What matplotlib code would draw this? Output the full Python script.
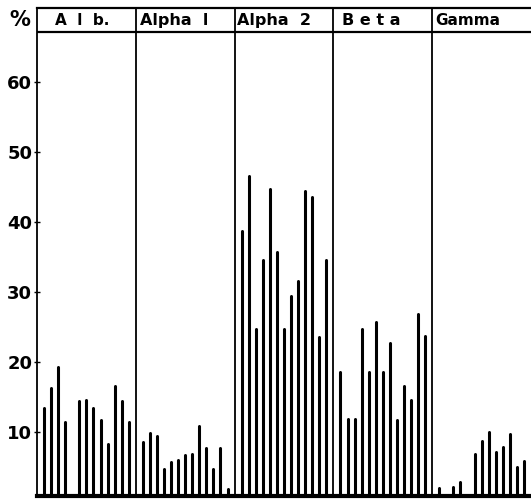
import matplotlib
matplotlib.use("Agg")
import matplotlib.pyplot as plt
import numpy as np

# ---- data ----
fractions = ["A  l  b.", "Alpha  l", "Alpha  2", "B e t a", "Gamma"]
alb    = [13.4, 16.3, 19.3, 11.4, 0.0, 14.4, 14.6, 13.4, 11.7, 8.3, 16.6, 14.4, 11.4]
alpha1 = [8.6, 9.8, 9.5, 4.7, 5.7, 6.0, 6.7, 6.9, 10.8, 7.7, 4.7, 7.7, 1.9]
alpha2 = [38.7, 46.6, 24.7, 34.6, 44.7, 35.7, 24.7, 29.4, 31.6, 44.4, 43.6, 23.6, 34.6]
beta   = [18.6, 11.9, 11.9, 24.7, 18.6, 25.7, 18.6, 22.7, 11.7, 16.6, 14.6, 26.9, 23.7]
gamma  = [2.0, 0.0, 2.1, 2.8, 0.0, 6.9, 8.7, 10.0, 7.1, 7.9, 9.7, 5.0, 5.9]
yticks = [10, 20, 30, 40, 50, 60]

series = [alb, alpha1, alpha2, beta, gamma]

W, H = 531, 499
fig = plt.figure(figsize=(W / 100, H / 100), dpi=100)
ax = fig.add_axes([37 / W, 3 / H, (W - 37) / W, (496 - 8) / H])

group_w = 14
for g, vals in enumerate(series):
    x = g * group_w + 1 + np.arange(len(vals))
    v = np.array(vals)
    m = v > 0
    ax.vlines(x[m], 0, v[m], colors="black", linewidth=2.2, capstyle="round")
    if g > 0:
        ax.axvline(g * group_w, color="black", linewidth=1.3)

y_bottom = 0.86
y_top = 70.57
y_header = 67.14
ax.set_xlim(0, 70)
ax.set_ylim(y_bottom, y_top)
ax.axhline(y_header, color="black", linewidth=1.6)

# header labels
label_x = [2.6, 0.6, 0.4, 1.2, 0.4]
label_fs = [11, 11.5, 11.5, 11.5, 11]
for g, lab in enumerate(fractions):
    ax.text(g * group_w + label_x[g], (y_header + y_top) / 2, lab,
            ha="left", va="center", fontsize=label_fs[g], fontweight="bold",
            family="DejaVu Sans")

fig.text(20 / W, 1 - 20 / H, "%", ha="center", va="center",
         fontsize=15, fontweight="bold", family="DejaVu Sans")

ax.set_yticks(yticks)
ax.set_yticklabels([str(t) for t in yticks], fontsize=13, fontweight="bold",
                   family="DejaVu Sans")
ax.tick_params(axis="y", direction="inout", length=5, width=1, pad=1)
ax.set_xticks([])

ax.spines["right"].set_visible(False)
ax.spines["left"].set_linewidth(1.3)
ax.spines["top"].set_linewidth(1.6)
ax.spines["bottom"].set_linewidth(3.0)

fig.savefig("out.png", dpi=100, facecolor="white")
